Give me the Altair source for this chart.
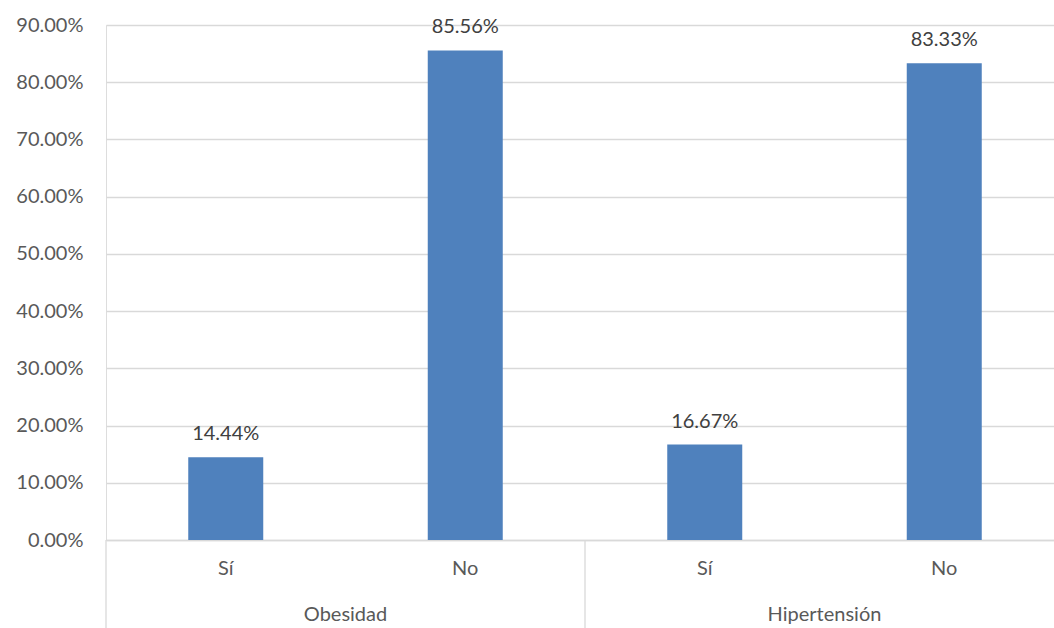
import altair as alt
import pandas as pd

groups = ["Obesidad", "Obesidad", "Hipertensión", "Hipertensión"]
answers = ["Sí", "No", "Sí", "No"]
values = [14.44, 85.56, 16.67, 83.33]
group_names = ["Obesidad", "Hipertensión"]
y_ticks = [0, 10, 20, 30, 40, 50, 60, 70, 80, 90]

df = pd.DataFrame({
    "group": groups,
    "answer": answers,
    "key": [g + "|" + a for g, a in zip(groups, answers)],
    "value": [v / 100 for v in values],
    "label": [f"{v:.2f}%" for v in values],
})
gdf = pd.DataFrame({"group": group_names})

W, H = 948, 515
FONT = "Lato"
xscale = alt.Scale(domain=list(df["key"]), range=[0, 958], paddingInner=0, paddingOuter=0)
yscale = alt.Scale(domain=[0, 0.9], nice=False)

y_axis = alt.Axis(values=[t / 100 for t in y_ticks], format=".2%",
                  domain=False, ticks=False, labelFont=FONT,
                  labelFontSize=20, labelColor="#595959",
                  labelPadding=23, gridColor="#d9d9d9", gridWidth=1.3)

x_axis = alt.Axis(labelExpr="split(datum.label,'|')[1]", labelAngle=0,
                  ticks=False, domain=True, domainColor="#d9d9d9",
                  domainWidth=1.3, labelFont=FONT, labelFontSize=20,
                  labelColor="#595959", labelPadding=18, grid=False)

bars = alt.Chart(df).mark_bar(size=75, color="#4f81bd").encode(
    x=alt.X("key:N", scale=xscale, sort=None, title=None, axis=x_axis),
    y=alt.Y("value:Q", scale=yscale, title=None, axis=y_axis),
)

texts = alt.Chart(df).mark_text(baseline="bottom", dy=-13, font=FONT,
                                fontSize=20, color="#404040").encode(
    x=alt.X("key:N", scale=xscale, sort=None, title=None, axis=x_axis),
    y=alt.Y("value:Q", scale=yscale, title=None, axis=y_axis),
    text="label:N",
)

gscale = alt.Scale(domain=group_names, range=[0, 958], paddingInner=0, paddingOuter=0)

seps = alt.Chart(gdf).mark_rule(color="#d9d9d9", strokeWidth=1.3).encode(
    x=alt.X("group:N", scale=gscale, sort=None, axis=None, bandPosition=0),
    y=alt.value(H),
    y2=alt.value(H + 88),
)

glabels = alt.Chart(gdf).mark_text(baseline="middle", font=FONT, fontSize=20,
                                   color="#595959").encode(
    x=alt.X("group:N", scale=gscale, sort=None, axis=None),
    y=alt.value(H + 75),
    text="group:N",
)

chart = alt.layer(
    alt.layer(bars, texts),
    alt.layer(seps, glabels),
).resolve_scale(x="independent").properties(
    width=W, height=H,
    autosize=alt.AutoSizeParams(type="none"),
    padding={"left": 106, "top": 25, "right": 0, "bottom": 88},
).configure_view(stroke="transparent").configure_axisY(
    domain=False, ticks=False
).configure(background="white")

chart.save("out.html", embed_options={"renderer": "svg", "actions": False})
